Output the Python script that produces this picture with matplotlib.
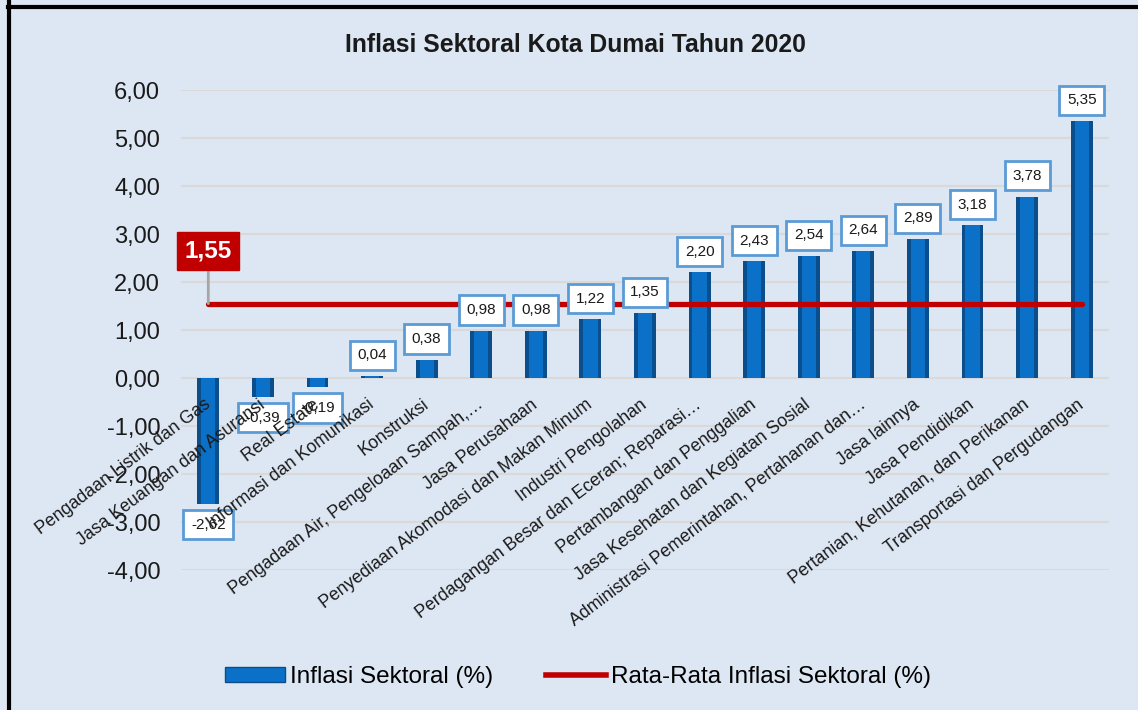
import matplotlib
matplotlib.use("Agg")
import matplotlib.pyplot as plt
from matplotlib.patches import Patch
from matplotlib.lines import Line2D
import matplotlib.transforms as mtransforms
import numpy as np

plt.rcParams['font.family'] = ['Liberation Sans', 'DejaVu Sans']

categories = [
    "Pengadaan Listrik dan Gas",
    "Jasa Keuangan dan Asuransi",
    "Real Estate",
    "Informasi dan Komunikasi",
    "Konstruksi",
    "Pengadaan Air, Pengeloaan Sampah,…",
    "Jasa Perusahaan",
    "Penyediaan Akomodasi dan Makan Minum",
    "Industri Pengolahan",
    "Perdagangan Besar dan Eceran; Reparasi…",
    "Pertambangan dan Penggalian",
    "Jasa Kesehatan dan Kegiatan Sosial",
    "Administrasi Pemerintahan, Pertahanan dan…",
    "Jasa lainnya",
    "Jasa Pendidikan",
    "Pertanian, Kehutanan, dan Perikanan",
    "Transportasi dan Pergudangan",
]
inflasi = [-2.62, -0.39, -0.19, 0.04, 0.38, 0.98, 0.98, 1.22, 1.35,
           2.20, 2.43, 2.54, 2.64, 2.89, 3.18, 3.78, 5.35]
rata_rata = 1.55
y_ticks = [-4, -3, -2, -1, 0, 1, 2, 3, 4, 5, 6]

title = "Inflasi Sektoral Kota Dumai Tahun 2020"
legend_labels = ["Inflasi Sektoral (%)", "Rata-Rata Inflasi Sektoral (%)"]

def fmt(v):
    return f"{v:.2f}".replace(".", ",")

BG = '#DDE7F3'
fig = plt.figure(figsize=(11.38, 7.10), dpi=100, facecolor=BG)
ax = fig.add_axes([181/1138, 1-570/710, (1109-181)/1138, 480/710])
ax.set_facecolor(BG)

x = np.arange(len(categories))
ax.bar(x, inflasi, width=0.40, color='#0B4E8C', zorder=3)
ax.bar(x, inflasi, width=0.26, color='#0B70C8', zorder=3)

ax.plot(x, [rata_rata]*len(x), color='#C00000', lw=3.8, solid_capstyle='round', zorder=4)

for xi, v in zip(x, inflasi):
    off = 15 if v >= 0 else -15
    ax.annotate(fmt(v), xy=(xi, v), xytext=(0, off), textcoords='offset points',
                ha='center', va='center', fontsize=11, color='#1A1A1A', zorder=6,
                bbox=dict(boxstyle='square,pad=0.5', fc='white', ec='#5B9BD5', lw=2))

ax.annotate(fmt(rata_rata), xy=(x[0], rata_rata), xytext=(0, 38), textcoords='offset points',
            ha='center', va='center', fontsize=17.5, fontweight='bold', color='white', zorder=7,
            bbox=dict(boxstyle='square,pad=0.3', fc='#C00000', ec='#C00000'),
            arrowprops=dict(arrowstyle='-', color='#A6A6A6', lw=2, shrinkA=0, shrinkB=0))

ax.set_ylim(-4, 6)
ax.set_xlim(-0.5, len(categories)-0.5)
ax.set_yticks(y_ticks)
ax.set_yticklabels([fmt(t) for t in y_ticks], fontsize=17, color='#1A1A1A')
ax.tick_params(axis='y', length=0, pad=15)
ax.grid(False)
for t in y_ticks:
    ax.axhline(t, color='#D9D9D9', lw=1.6, zorder=0.5)
for s in ax.spines.values():
    s.set_visible(False)
ax.spines['bottom'].set_position(('data', 0))
ax.set_xticks(x)
ax.set_xticklabels(categories, rotation=37, ha='right', va='top', rotation_mode='anchor',
                   fontsize=12.8, color='#1A1A1A')
ax.tick_params(axis='x', length=0, pad=13)
ax.xaxis.set_zorder(8)
shift = mtransforms.ScaledTranslation(-5/100, 0, fig.dpi_scale_trans)
for lbl in ax.get_xticklabels():
    lbl.set_transform(lbl.get_transform() + shift)

fig.text(575/1138, 1-45/710, title, ha='center', va='center', fontsize=17.8,
         fontweight='bold', color='#1A1A1A')

handles = [Patch(facecolor='#0B70C8', edgecolor='#0B4E8C', lw=1),
           Line2D([], [], color='#C00000', lw=4)]
fig.legend(handles, legend_labels, loc='center', bbox_to_anchor=(578/1138, 1-677/710),
           ncol=2, frameon=False, fontsize=17.5, handlelength=2.45, handletextpad=0.2,
           columnspacing=2.2, handleheight=0.55)

fig.add_artist(Line2D([9/1138, 9/1138], [0, 1], transform=fig.transFigure, color='black', lw=3))
fig.add_artist(Line2D([8/1138, 1], [1-7/710, 1-7/710], transform=fig.transFigure, color='black', lw=3))

fig.savefig('out.png', dpi=100, facecolor=BG)
